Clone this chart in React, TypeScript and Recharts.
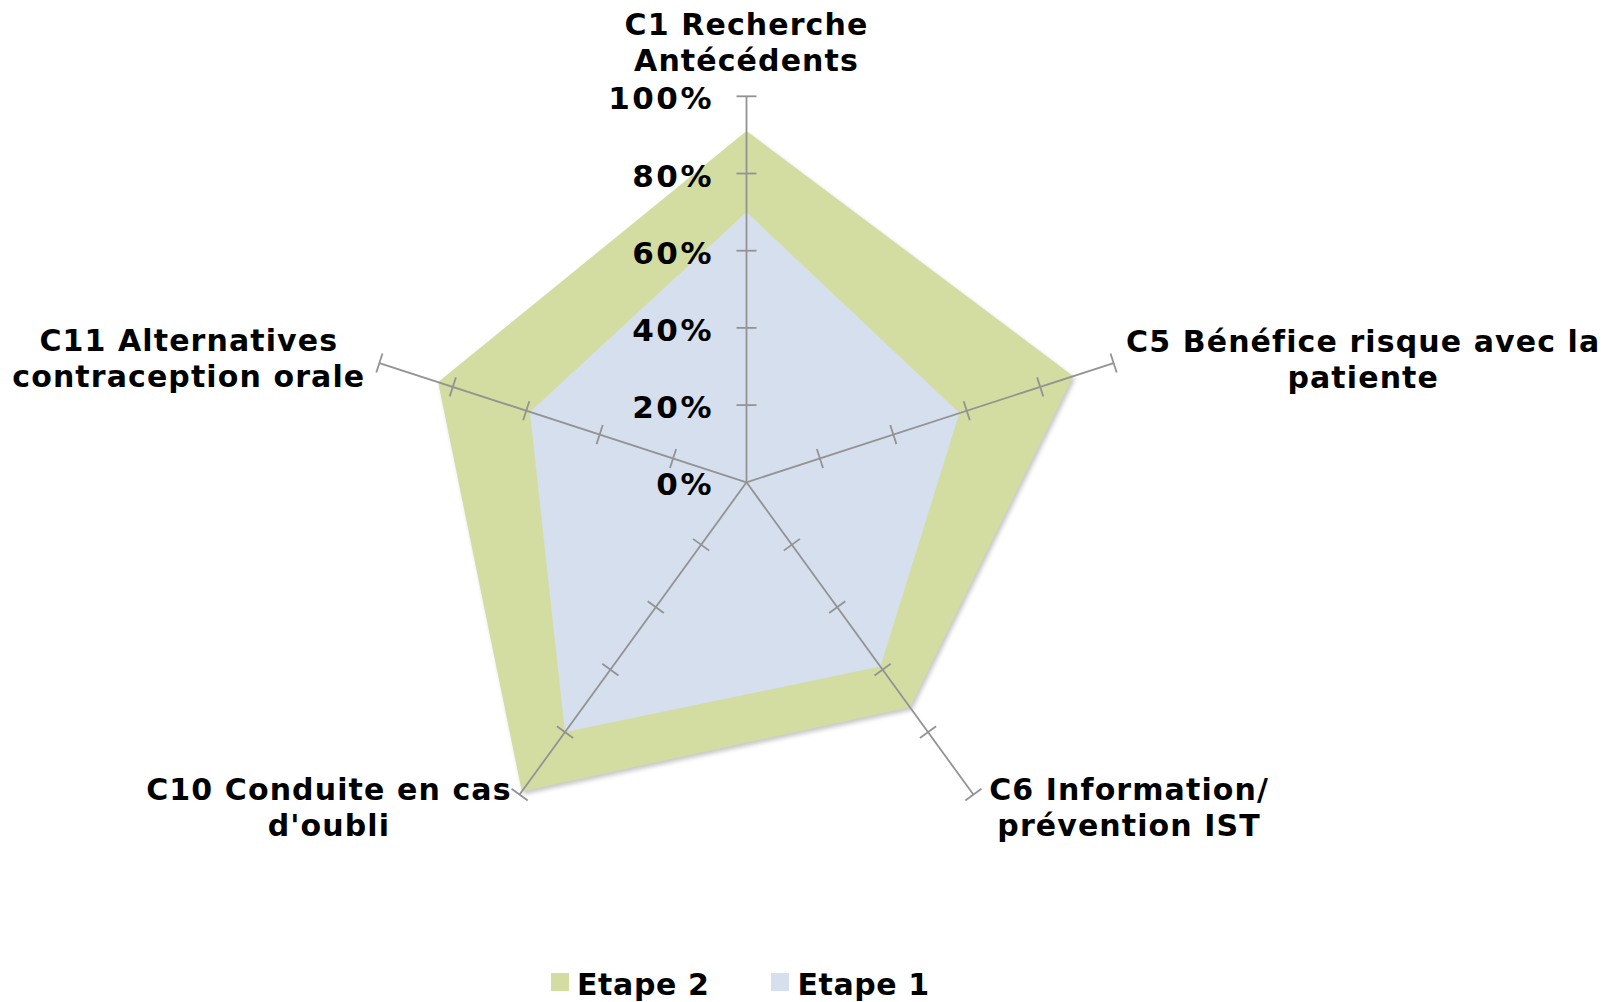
import React from 'react'
import { RadarChart, Radar, PolarAngleAxis, PolarRadiusAxis, Legend } from 'recharts'

// critères évalués (une ligne par \n)
const criteres = [
  'C1 Recherche\nAntécédents',
  'C5 Bénéfice risque avec la\npatiente',
  'C6 Information/\nprévention IST',
  "C10 Conduite en cas\nd'oubli",
  'C11 Alternatives\ncontraception orale',
]
const etape2 = [91, 89, 72, 99, 84]
const etape1 = [70, 58, 59, 80, 59]
const pourcentTicks = [0, 20, 40, 60, 80, 100]

const series = [
  { key: 'etape2', name: 'Etape 2', fill: '#d3dda1' },
  { key: 'etape1', name: 'Etape 1', fill: '#d6dfed' },
]

const data = criteres.map((critere, i) => ({ critere, etape2: etape2[i], etape1: etape1[i] }))

const FONT = '"DejaVu Sans", Verdana, sans-serif'
const GRIS = '#939393'

// décalage des libellés par rapport au point fourni par l'axe angulaire
const labelOffsets = [
  [0, -53],
  [242, -9],
  [151, -1],
  [-186, -1],
  [-183, -10],
]

const AngleTick = (props: any) => {
  const { x, y, index, payload } = props
  const [dx, dy] = labelOffsets[index] || [0, 0]
  const lines = String(payload.value).split('\n')
  return (
    <text
      x={x + dx}
      y={y + dy}
      textAnchor="middle"
      fontFamily={FONT}
      fontWeight="bold"
      fontSize={30}
      letterSpacing={1.1}
      fill="#000"
    >
      {lines.map((l, i) => (
        <tspan key={i} x={x + dx} dy={i === 0 ? 0 : 36}>
          {l}
        </tspan>
      ))}
    </text>
  )
}

const TickLabel = ({ x, y, value }: { x: number; y: number; value: number }) => (
  <text
    x={x - 32.5}
    y={y + 13}
    textAnchor="end"
    fontFamily={FONT}
    fontWeight="bold"
    fontSize={31}
    letterSpacing={2.5}
    fill="#000"
  >
    {value}%
  </text>
)

const makeRadiusTick = (angle: number, withLabel: boolean) => (props: any) => {
  const { x, y, payload } = props
  const rad = (angle * Math.PI) / 180
  const sx = Math.sin(rad) * 10
  const sy = Math.cos(rad) * 10
  return (
    <g>
      {payload.value !== 0 && (
        <line x1={x - sx} y1={y - sy} x2={x + sx} y2={y + sy} stroke={GRIS} strokeWidth={1.8} />
      )}
      {withLabel && <TickLabel x={x} y={y} value={payload.value} />}
    </g>
  )
}

const LegendContent = () => (
  <div
    style={{
      display: 'flex',
      fontFamily: FONT,
      fontWeight: 'bold',
      fontSize: 30,
      lineHeight: '30px',
      letterSpacing: 0.6,
      color: '#000',
    }}
  >
    {series.map((s, i) => (
      <div key={s.key} style={{ display: 'flex', alignItems: 'flex-start', marginRight: i === 0 ? 62 : 0 }}>
        <span
          style={{ display: 'inline-block', width: 18, height: 18, background: s.fill, marginTop: 3, marginRight: 8 }}
        />
        <span style={{ whiteSpace: 'nowrap' }}>{s.name}</span>
      </div>
    ))}
  </div>
)

const spokeAngles = criteres.map((_, i) => 90 - (i * 360) / criteres.length)

export default function App() {
  return (
    <div style={{ width: 1611, height: 1002, background: '#fff' }}>
      <style>{'body{margin:0} .radar-etape2 path{filter:drop-shadow(2px 3px 2px rgba(0,0,0,0.22))}'}</style>
      <RadarChart
        width={1611}
        height={1002}
        data={data}
        cx={746.5}
        cy={482.3}
        outerRadius={386}
        margin={{ top: 0, right: 0, bottom: 0, left: 0 }}
      >
        <PolarAngleAxis dataKey="critere" tick={AngleTick} tickLine={false} axisLine={false} />
        {series.map((s) => (
          <Radar
            key={s.key}
            name={s.name}
            dataKey={s.key}
            fill={s.fill}
            fillOpacity={1}
            stroke="none"
            className={`radar-${s.key}`}
            isAnimationActive={false}
          />
        ))}
        {spokeAngles.map((a, i) => (
          <PolarRadiusAxis
            key={i}
            radiusAxisId={i}
            angle={a}
            type="number"
            domain={[0, 100]}
            ticks={pourcentTicks}
            tickCount={6}
            allowDataOverflow
            axisLine={{ stroke: GRIS, strokeWidth: 1.8 }}
            tick={makeRadiusTick(a, i === 0)}
          />
        ))}
        <Legend
          content={LegendContent}
          wrapperStyle={{ position: 'absolute', left: 551, top: 969.6, width: 'auto', height: 'auto' }}
        />
      </RadarChart>
    </div>
  )
}
